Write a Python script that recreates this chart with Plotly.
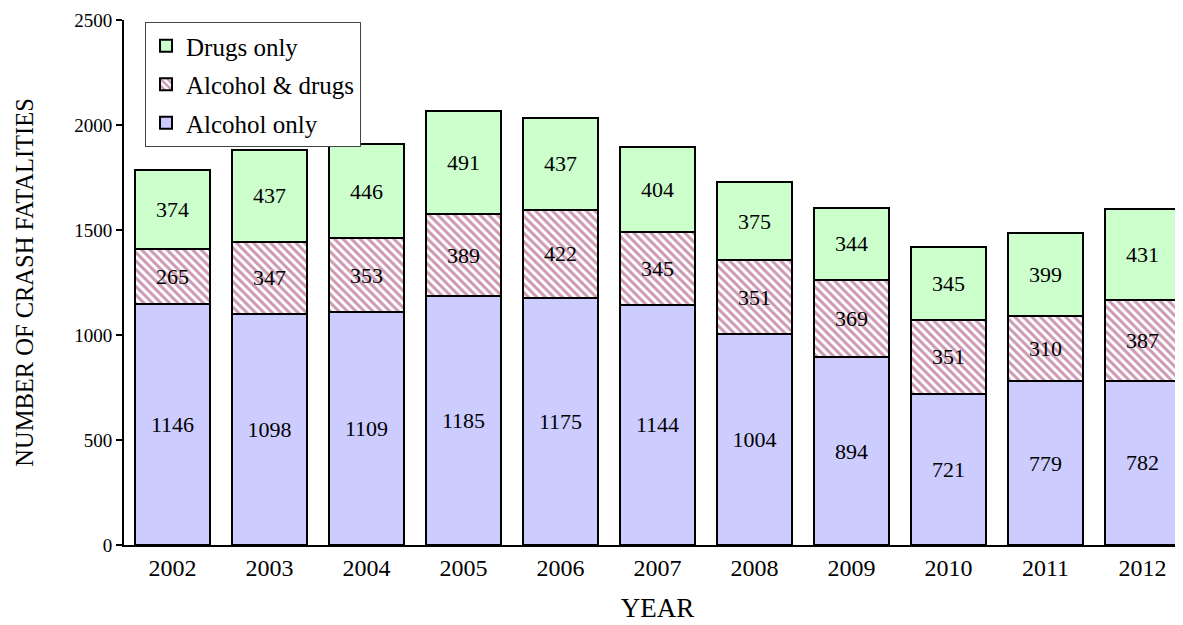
import plotly.graph_objects as go

years = ["2002", "2003", "2004", "2005", "2006", "2007", "2008", "2009", "2010", "2011", "2012"]
alcohol_only = [1146, 1098, 1109, 1185, 1175, 1144, 1004, 894, 721, 779, 782]
alcohol_drugs = [265, 347, 353, 389, 422, 345, 351, 369, 351, 310, 387]
drugs_only = [374, 437, 446, 491, 437, 404, 375, 344, 345, 399, 431]

FONT = "Liberation Serif, Times New Roman, serif"
common = dict(width=0.773, textposition="inside", insidetextanchor="middle",
              textangle=0, constraintext="none",
              textfont=dict(family=FONT, size=22, color="black"),
              marker_line=dict(color="black", width=2))

fig = go.Figure()
fig.add_trace(go.Bar(x=years, y=alcohol_only, name="Alcohol only", legendgroup="a",
                     legendrank=3,
                     text=[str(v) for v in alcohol_only],
                     marker=dict(color="#CCCCFF"), **common))
fig.add_trace(go.Bar(x=years, y=alcohol_drugs, name="Alcohol & drugs", legendgroup="b",
                     legendrank=2,
                     text=[str(v) for v in alcohol_drugs],
                     marker=dict(color="white",
                                 pattern=dict(shape="\\", fgcolor="#993366", bgcolor="white",
                                              size=6, solidity=0.5)), **common))
fig.add_trace(go.Bar(x=years, y=drugs_only, name="Drugs only", legendgroup="c",
                     legendrank=1,
                     text=[str(v) for v in drugs_only],
                     marker=dict(color="#CCFFCC"), **common))

fig.update_layout(
    barmode="stack",
    width=1183, height=625,
    margin=dict(l=116, r=0, t=12, b=88),
    paper_bgcolor="white", plot_bgcolor="white",
    font=dict(family=FONT, size=18, color="black"),
    uniformtext=dict(mode=False),
    legend=dict(x=0.0197, y=0.996, xanchor="left", yanchor="top",
                traceorder="grouped", tracegroupgap=3,
                bordercolor="#444444", borderwidth=1,
                bgcolor="white", font=dict(family=FONT, size=25),
                itemwidth=30),
    xaxis=dict(type="category", range=[-0.5, 10.5], showline=True, linecolor="black",
               linewidth=2, ticks="", showgrid=False, zeroline=False,
               tickfont=dict(family=FONT, size=24),
               title=dict(text="YEAR", font=dict(family=FONT, size=27), standoff=18)),
    yaxis=dict(range=[0, 2500], dtick=500, showline=True, linecolor="black", linewidth=2,
               ticks="outside", ticklen=6, tickwidth=2, tickcolor="black",
               showgrid=False, zeroline=False,
               tickfont=dict(family=FONT, size=19),
               title=dict(text="NUMBER OF CRASH FATALITIES", font=dict(family=FONT, size=24.5),
                          standoff=34)),
)

fig.write_html("out.html")
